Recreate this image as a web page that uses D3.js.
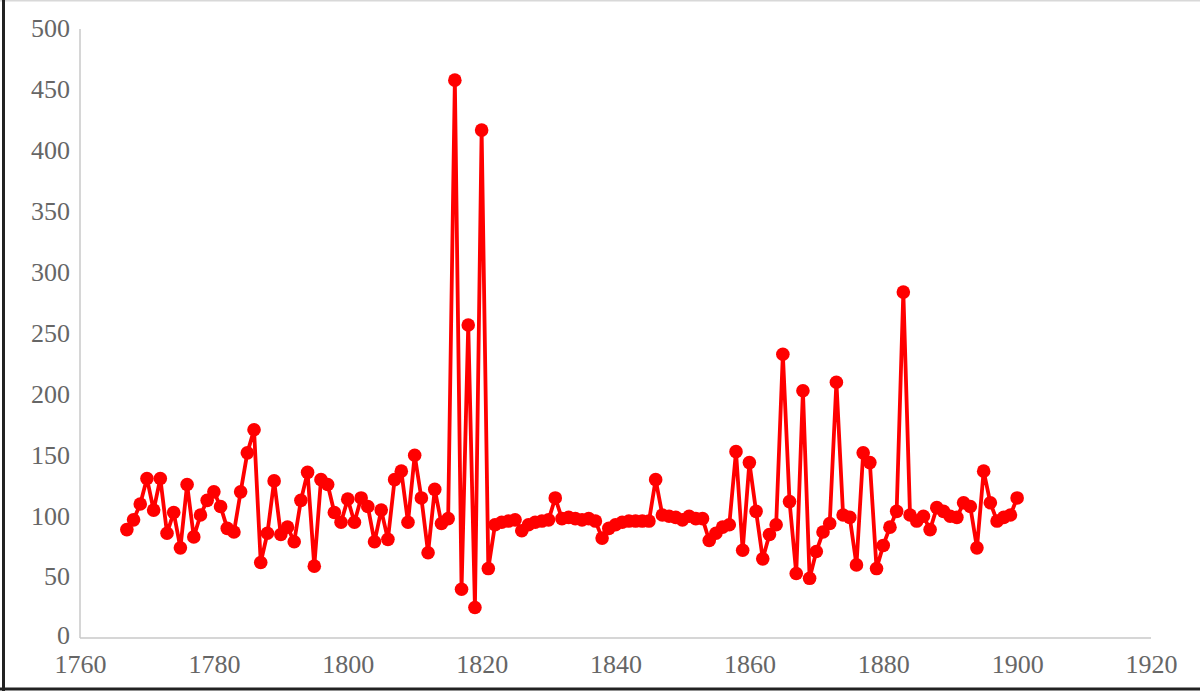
<!DOCTYPE html>
<html>
<head>
<meta charset="utf-8">
<script src="https://cdn.jsdelivr.net/npm/d3@7"></script>
<style>
  html, body { margin: 0; padding: 0; background: #fff; }
  svg { display: block; }
</style>
</head>
<body>
<svg id="chart" width="1200" height="691"></svg>
<script>
// values, one per year 1767-1900
const years = d3.range(1767, 1901);
const series = [
  89, 97, 110, 131, 105, 131, 86, 103, 74, 126,          // 1767-1776
  83, 101, 113, 120, 108, 90, 87, 120, 152, 171,         // 1777-1786
  62, 86, 129, 85, 91, 79, 113, 136, 59, 130,            // 1787-1796
  126, 103, 95, 114, 95, 115, 108, 79, 105, 81,          // 1797-1806
  130, 137, 95, 150, 115, 70, 122, 94, 98, 458,          // 1807-1816
  40, 257, 25, 417, 57, 93, 95, 96, 97, 88,              // 1817-1826
  93, 95, 96, 97, 115, 98, 99, 98, 97, 98,               // 1827-1836
  96, 82, 90, 93, 95, 96, 96, 96, 96, 130,               // 1837-1846
  101, 100, 99, 97, 100, 98, 98, 80, 86, 91,             // 1847-1856
  93, 153, 72, 144, 104, 65, 85, 93, 233, 112,           // 1857-1866
  53, 203, 49, 71, 87, 94, 210, 101, 99, 60,             // 1867-1876
  152, 144, 57, 76, 91, 104, 284, 101, 96, 100,          // 1877-1886
  89, 107, 104, 100, 99, 111, 108, 74, 137, 111,         // 1887-1896
  96, 99, 101, 115                                        // 1897-1900
];
const xTicks = [1760, 1780, 1800, 1820, 1840, 1860, 1880, 1900, 1920];
const yTicks = [0, 50, 100, 150, 200, 250, 300, 350, 400, 450, 500];

const data = years.map((y, i) => ({ year: y, value: series[i] }));

const svg = d3.select("#chart");
const W = 1200, H = 691;

// frame
svg.append("rect").attr("x", 0).attr("y", 0).attr("width", W).attr("height", H).attr("fill", "#fff");
svg.append("line").attr("x1", 0).attr("x2", W).attr("y1", 0.5).attr("y2", 0.5)
   .attr("stroke", "#d8d8d8").attr("stroke-width", 2);
svg.append("line").attr("x1", 3.5).attr("x2", 3.5).attr("y1", 0).attr("y2", H)
   .attr("stroke", "#222").attr("stroke-width", 3);
svg.append("line").attr("x1", 0).attr("x2", W).attr("y1", 689).attr("y2", 689)
   .attr("stroke", "#222").attr("stroke-width", 3);

const x = d3.scaleLinear().domain([1760, 1920]).range([80, 1151]);
const y = d3.scaleLinear().domain([0, 500]).range([638, 29]);

const font = "'Liberation Serif', 'Times New Roman', serif";

// axis lines
svg.append("line").attr("x1", x(1760)).attr("x2", x(1760)).attr("y1", y(500)).attr("y2", y(0))
   .attr("stroke", "#c8c8c8").attr("stroke-width", 1.5);
svg.append("line").attr("x1", x(1760)).attr("x2", x(1920)).attr("y1", y(0)).attr("y2", y(0))
   .attr("stroke", "#c8c8c8").attr("stroke-width", 1.5);

// y tick labels
const yAxis = d3.axisLeft(y).tickValues(yTicks).tickSize(0).tickPadding(10).tickFormat(d3.format("d"));
const gy = svg.append("g").attr("transform", `translate(${x(1760)},0)`).call(yAxis);
gy.select(".domain").remove();
gy.selectAll("text").attr("font-family", font).attr("font-size", 26).attr("fill", "#666")
  .attr("dy", d => d === 0 ? "0.2em" : "0.3em");

// x tick labels
const xAxis = d3.axisBottom(x).tickValues(xTicks).tickSize(0).tickPadding(17).tickFormat(d3.format("d"));
const gx = svg.append("g").attr("transform", `translate(0,${y(0)})`).call(xAxis);
gx.select(".domain").remove();
gx.selectAll("text").attr("font-family", font).attr("font-size", 26).attr("fill", "#666");

// line
const line = d3.line().x(d => x(d.year)).y(d => y(d.value));
svg.append("path").datum(data).attr("d", line)
   .attr("fill", "none").attr("stroke", "#ff0000").attr("stroke-width", 3.8)
   .attr("stroke-linejoin", "round");

// markers
svg.append("g").selectAll("circle").data(data).join("circle")
   .attr("cx", d => x(d.year)).attr("cy", d => y(d.value)).attr("r", 6.8)
   .attr("fill", "#ff0000");
</script>
</body>
</html>
